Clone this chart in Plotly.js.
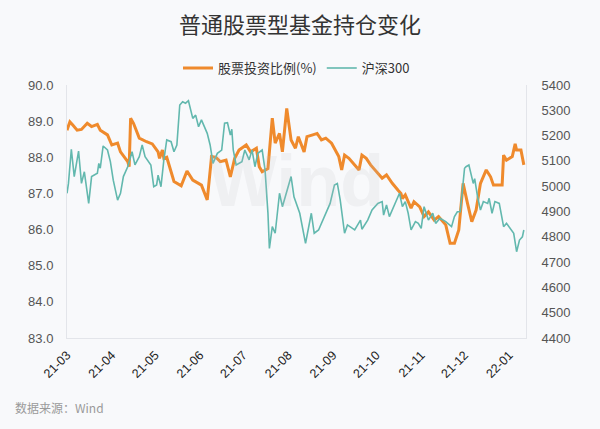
<!DOCTYPE html>
<html><head><meta charset="utf-8">
<script src="https://cdn.plot.ly/plotly-3.0.1.min.js"></script>
<style>html,body{margin:0;padding:0;background:#f8f9fb;}#chart{width:600px;height:429px;}</style>
</head><body><div id="chart"></div>
<script>
const ratioDates = ["2021-03-01","2021-03-03","2021-03-05","2021-03-08","2021-03-11","2021-03-15","2021-03-18","2021-03-22","2021-03-24","2021-03-29",
"2021-04-01","2021-04-05","2021-04-07","2021-04-12","2021-04-13","2021-04-14","2021-04-16","2021-04-20","2021-04-25","2021-04-29",
"2021-05-03","2021-05-04","2021-05-06","2021-05-07","2021-05-09","2021-05-14","2021-05-19","2021-05-23","2021-05-27","2021-05-31",
"2021-06-02","2021-06-06","2021-06-09","2021-06-12","2021-06-15","2021-06-19","2021-06-22","2021-06-25","2021-06-28",
"2021-07-03","2021-07-06","2021-07-10","2021-07-12","2021-07-14","2021-07-18","2021-07-21","2021-07-23","2021-07-26","2021-07-28","2021-07-31",
"2021-08-03","2021-08-06","2021-08-08","2021-08-12","2021-08-14","2021-08-18","2021-08-21","2021-08-24","2021-08-27","2021-08-31",
"2021-09-03","2021-09-05","2021-09-07","2021-09-09","2021-09-12","2021-09-16","2021-09-19","2021-09-21","2021-09-24","2021-09-27",
"2021-10-02","2021-10-05","2021-10-08","2021-10-12","2021-10-16","2021-10-18","2021-10-19","2021-10-21","2021-10-25","2021-10-27","2021-10-31",
"2021-11-03","2021-11-06","2021-11-10","2021-11-13","2021-11-18","2021-11-21","2021-11-24","2021-11-27","2021-11-30",
"2021-12-03","2021-12-06","2021-12-09","2021-12-12","2021-12-16","2021-12-19","2021-12-21","2021-12-27","2021-12-28","2021-12-30",
"2022-01-03","2022-01-05","2022-01-06","2022-01-09","2022-01-11"];
const ratioValues = [88.75,88.98,88.89,88.75,88.77,88.94,88.85,88.91,88.75,88.62,
88.34,88.39,88.15,87.88,87.74,89.08,88.94,88.53,88.43,88.37,
88.15,87.97,88.20,87.97,88.00,87.33,87.21,87.62,87.37,87.28,
87.23,86.82,88.02,88.00,87.88,87.92,87.46,87.97,88.20,
88.34,88.15,88.25,87.74,87.60,87.69,89.08,88.39,88.66,88.15,89.35,
88.48,88.25,88.57,88.15,88.57,88.62,88.66,88.48,88.53,88.39,
88.15,88.02,87.65,88.06,87.97,87.79,87.65,88.06,87.97,87.79,
87.56,87.42,87.51,87.28,87.09,87.00,86.86,86.96,86.59,86.77,86.63,
86.36,86.49,86.26,86.36,86.13,85.62,85.62,85.99,87.28,
86.73,86.22,86.54,87.28,87.65,87.46,87.23,87.23,88.06,87.92,
88.02,88.37,88.20,88.20,87.79];

const csiDates = ["2021-03-01","2021-03-02","2021-03-04","2021-03-06","2021-03-09","2021-03-11","2021-03-13","2021-03-16","2021-03-18","2021-03-22","2021-03-23","2021-03-24","2021-03-26","2021-03-29","2021-03-31",
"2021-04-02","2021-04-05","2021-04-07","2021-04-09","2021-04-12","2021-04-15","2021-04-17","2021-04-20","2021-04-22","2021-04-24","2021-04-28","2021-04-30",
"2021-05-02","2021-05-03","2021-05-05","2021-05-07","2021-05-09","2021-05-12","2021-05-14","2021-05-16","2021-05-18","2021-05-20","2021-05-22","2021-05-24","2021-05-27","2021-05-29","2021-05-31",
"2021-06-02","2021-06-06","2021-06-08","2021-06-10","2021-06-13","2021-06-16","2021-06-18","2021-06-20","2021-06-22","2021-06-23","2021-06-24","2021-06-26","2021-06-30",
"2021-07-02","2021-07-05","2021-07-07","2021-07-09","2021-07-11","2021-07-14","2021-07-16","2021-07-18","2021-07-19","2021-07-21","2021-07-23","2021-07-26","2021-07-28",
"2021-08-03","2021-08-05","2021-08-09","2021-08-11","2021-08-13","2021-08-17","2021-08-19","2021-08-22","2021-08-26","2021-08-30",
"2021-09-02","2021-09-04","2021-09-06","2021-09-09","2021-09-11","2021-09-16","2021-09-20","2021-09-21","2021-09-25","2021-09-28",
"2021-10-02","2021-10-05","2021-10-06","2021-10-08","2021-10-10","2021-10-13","2021-10-15","2021-10-17","2021-10-19","2021-10-21","2021-10-23","2021-10-25","2021-10-28","2021-10-30",
"2021-11-01","2021-11-03","2021-11-06","2021-11-09","2021-11-11","2021-11-14","2021-11-18","2021-11-22","2021-11-24","2021-11-26","2021-11-28",
"2021-12-01","2021-12-02","2021-12-04","2021-12-07","2021-12-08","2021-12-10","2021-12-12","2021-12-14","2021-12-17","2021-12-18","2021-12-20","2021-12-22","2021-12-25","2021-12-28","2021-12-30",
"2022-01-04","2022-01-06","2022-01-08","2022-01-10","2022-01-11"];
const csiValues = [4972,5011,5146,5038,5139,5011,5057,4932,5038,5051,5090,5071,5159,5143,5097,
5024,4945,4972,5038,5077,5136,5084,5117,5163,5117,5084,4998,
5005,5044,4998,5104,5183,5176,5136,5163,5321,5334,5328,5338,5268,5281,5235,
5262,5209,5163,5090,5130,5143,5249,5251,5202,5225,5143,5084,5097,
5143,5104,5143,5077,5130,5143,5064,4893,4754,4840,4814,4972,4919,
5038,4958,4893,4840,4774,4893,4814,4827,4880,4932,
5005,5011,4945,4814,4847,4827,4866,4830,4866,4906,
4932,4939,4886,4926,4880,4919,4939,4972,4919,4939,4893,4827,4860,4853,
4833,4919,4866,4893,4853,4873,4860,4840,4880,4899,4899,
5071,5077,5084,5011,5030,4958,4906,4939,4932,4952,4893,4939,4932,4840,4853,
4814,4741,4787,4800,4827];

const leftTicks = [83,84,85,86,87,88,89,90];
const rightTicks = [4400,4500,4600,4700,4800,4900,5000,5100,5200,5300,5400];

const traces = [
  {x: ratioDates, y: ratioValues, name: '股票投资比例(%)', type: 'scatter', mode: 'lines',
   line: {color: '#ef8a2c', width: 3}, yaxis: 'y'},
  {x: csiDates, y: csiValues, name: '沪深300', type: 'scatter', mode: 'lines',
   line: {color: '#62b8ae', width: 1.6}, yaxis: 'y2'}
];

const axisFont = {family: 'Liberation Sans, Arial, sans-serif', size: 13, color: '#555'};
const layout = {
  width: 600, height: 429,
  paper_bgcolor: '#f8f9fb', plot_bgcolor: '#f8f9fb',
  margin: {l: 67, r: 74, t: 85, b: 91},
  title: {text: '普通股票型基金持仓变化', x: 0.5, xanchor: 'center', y: 0.94, yanchor: 'middle',
          font: {family: 'Noto Sans CJK SC, sans-serif', size: 22, color: '#333'}},
  showlegend: true,
  legend: {orientation: 'h', x: 0.5, xanchor: 'center', y: 1.067, yanchor: 'middle',
           font: {family: 'Noto Sans CJK SC, sans-serif', size: 13, color: '#333'},
           bgcolor: 'rgba(0,0,0,0)', itemwidth: 30},
  xaxis: {type: 'date', range: ['2021-03-01', '2022-01-12 12:00'],
          tick0: '2021-03-01', dtick: 'M1', tickformat: '%y-%m', tickangle: -45,
          showgrid: false, zeroline: false, showline: true, linecolor: '#e3e5ea', linewidth: 1,
          ticks: '', ticklabelstandoff: 4,
          tickfont: {family: 'Liberation Sans, Arial, sans-serif', size: 12.5, color: '#222'}},
  yaxis: {range: [83, 90], tickvals: leftTicks, tickformat: '.1f', showgrid: false, zeroline: false,
          showline: true, linecolor: '#e3e5ea', linewidth: 1, ticks: '', ticklabelstandoff: 10,
          tickfont: axisFont},
  yaxis2: {range: [4400, 5400], tickvals: rightTicks, overlaying: 'y', side: 'right',
           showgrid: false, zeroline: false, showline: true, linecolor: '#e3e5ea', linewidth: 1,
           ticks: '', ticklabelstandoff: 12, tickfont: axisFont},
  annotations: [
    {text: 'Wind', xref: 'paper', yref: 'paper', x: 0.5, y: 0.62, showarrow: false,
     font: {family: 'Liberation Sans, Arial, sans-serif', size: 72, color: 'rgba(190,192,198,0.16)', weight: 'bold'}},
    {text: '数据来源：Wind', xref: 'paper', yref: 'paper', x: -0.117, xanchor: 'left', y: -0.275, yanchor: 'middle',
     showarrow: false, font: {family: 'Noto Sans CJK SC, sans-serif', size: 12, color: '#9a9a9a'}}
  ]
};
Plotly.newPlot('chart', traces, layout, {displayModeBar: false, staticPlot: true});
</script></body></html>
